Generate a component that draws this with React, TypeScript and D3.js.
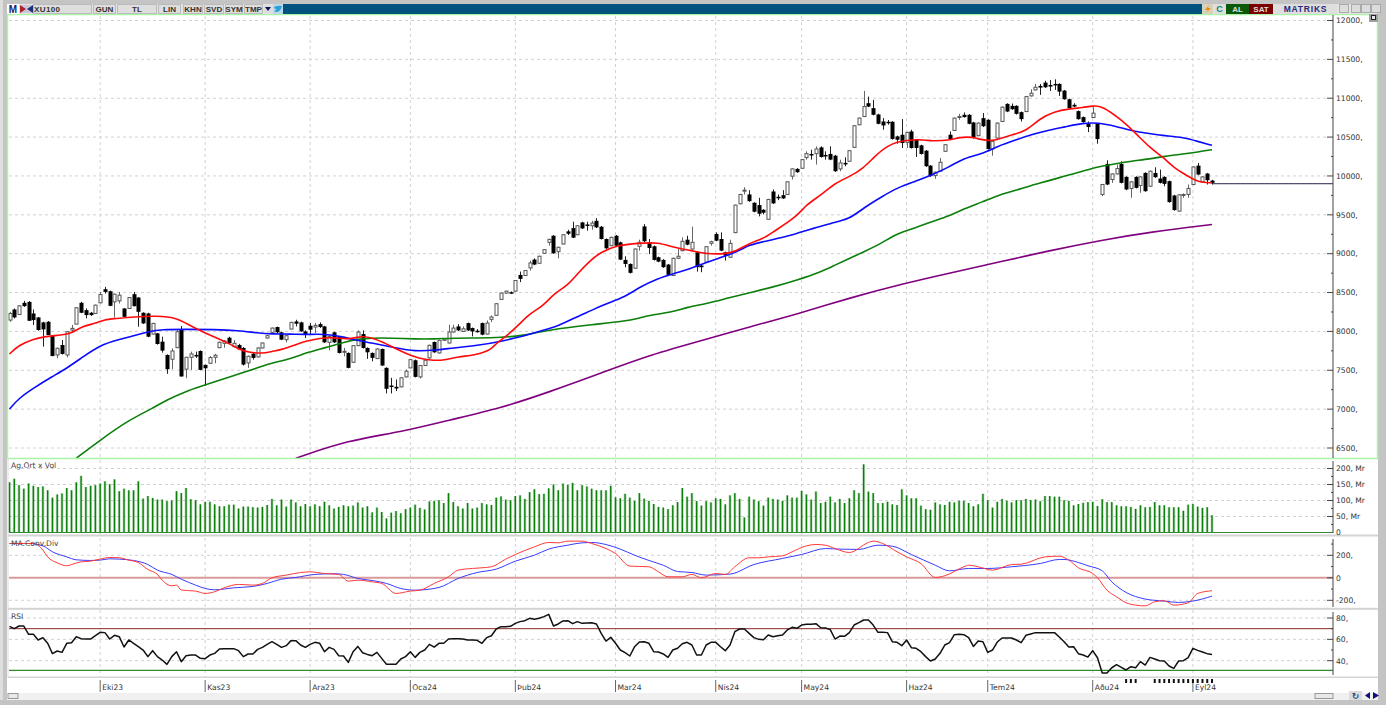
import React from "react";
import * as d3 from "d3";

// ---- candles (XU100, daily), 253 bars
const opens = [
8146,8282,8218,8368,8380,8231,8180,8116,8124,7941,
7697,7825,7697,8018,8094,8368,8274,8240,8231,8368,
8543,8517,8380,8393,8295,8295,8479,8436,8240,8231,
7966,7975,7868,7697,7642,7791,8018,7514,7667,7697,
7748,7569,7590,7667,7791,7847,7919,7804,7825,7787,
7595,7714,7672,7787,7915,7988,8056,7988,7894,8030,
8128,8116,8000,8073,8056,8094,8064,7859,7988,7928,
7731,7723,7603,7817,7966,7787,7723,7650,7774,7531,
7304,7287,7287,7415,7531,7629,7415,7561,7659,7864,
7723,7885,7851,7992,8064,8000,8107,8043,8009,8107,
7966,8155,8207,8412,8493,8505,8518,8727,8719,8817,
8924,8877,9005,9146,9231,9026,9125,9287,9329,9244,
9402,9376,9359,9423,9347,9189,9103,9231,9146,8920,
8868,8813,9095,9351,9146,9095,8954,8920,8860,8719,
8941,9039,9180,9060,9018,8847,8890,9133,9253,9189,
9018,8954,9271,9642,9809,9762,9655,9625,9565,9442,
9800,9732,9753,9762,9997,10091,10099,10236,10283,10287,
10368,10270,10283,10261,10091,10168,10189,10368,10659,10765,
10936,10872,10791,10701,10697,10697,10509,10530,10432,10573,
10466,10394,10325,10133,10005,10061,10317,10530,10586,10752,
10787,10787,10688,10518,10744,10722,10347,10488,10701,10927,
10902,10902,10821,10829,11030,11107,11158,11201,11171,11184,
11184,11098,10987,10915,10834,10757,10671,10752,10671,9762,
10155,9954,10026,10155,9988,9839,9988,9877,10039,9868,
10039,9967,9988,9933,9749,9548,9753,9762,9890,10133,
9924,10031,9941];
const highs = [
8252,8295,8338,8393,8389,8282,8185,8124,8133,7945,
7791,7889,8005,8082,8312,8380,8295,8250,8345,8508,
8573,8525,8487,8508,8300,8440,8508,8440,8245,8240,
8110,7980,7932,7705,7783,8018,8069,7672,7740,7740,
7755,7575,7684,7710,7868,7890,7932,7889,7840,7800,
7690,7720,7795,7858,7955,8050,8062,7995,7950,8122,
8150,8125,8013,8107,8107,8116,8072,7945,7995,7935,
7787,7730,7825,8013,8013,7795,7730,7780,7780,7538,
7403,7381,7410,7509,7645,7638,7568,7650,7830,7870,
7893,7910,8086,8086,8094,8064,8114,8050,8030,8115,
8141,8205,8365,8500,8525,8515,8662,8770,8790,8911,
8940,8974,9060,9192,9238,9090,9252,9308,9411,9366,
9410,9411,9423,9458,9355,9196,9218,9240,9155,8967,
8875,9068,9180,9381,9189,9105,8962,8930,8868,8950,
9060,9210,9231,9347,9026,8855,9098,9167,9274,9274,
9026,9180,9632,9770,9856,9817,9662,9719,9572,9706,
9826,9762,9817,9932,10098,10100,10218,10317,10338,10381,
10381,10317,10381,10270,10210,10240,10333,10654,10752,11094,
11021,10979,10800,10744,10720,10705,10518,10731,10568,10595,
10474,10402,10333,10140,10056,10232,10410,10573,10752,10799,
10817,10795,10696,10688,10810,10730,10453,10688,10893,10935,
10932,10910,10829,11030,11115,11184,11184,11225,11235,11243,
11192,11106,10995,10936,10842,10765,10701,10885,10680,9898,
10202,10034,10146,10189,9996,9932,9996,9996,10047,10069,
10112,10082,9996,9941,9757,9765,9775,9890,10124,10167,
9996,10039,9950];
const lows = [
8124,8167,8210,8316,8137,8082,8009,7804,7953,7680,
7655,7702,7667,7983,8090,8235,8167,8200,8225,8360,
8487,8325,8180,8359,8185,8290,8320,8060,8095,7925,
7960,7830,7727,7454,7514,7785,7420,7398,7505,7660,
7500,7300,7585,7590,7785,7790,7835,7795,7760,7560,
7531,7637,7665,7780,7908,7980,7980,7888,7859,8025,
8064,7995,7915,7958,7979,8045,7852,7757,7850,7716,
7680,7525,7595,7810,7780,7646,7616,7645,7555,7202,
7202,7232,7280,7408,7525,7408,7394,7555,7650,7725,
7715,7878,7845,7985,8005,7993,8006,7936,7985,7950,
7960,8120,8200,8405,8485,8482,8510,8634,8712,8783,
8853,8870,8998,9103,8998,8941,9118,9240,9200,9238,
9318,9295,9308,9330,9182,9062,9096,9096,8918,8826,
8745,8805,9039,9150,8996,8912,8890,8818,8720,8712,
8930,9030,9108,9052,8770,8762,8882,9103,9160,9032,
8911,8946,9264,9635,9762,9668,9532,9480,9506,9435,
9640,9689,9704,9755,9954,10040,10092,10210,10210,10146,
10236,10210,10203,10053,10061,10125,10182,10360,10652,10757,
10885,10780,10664,10595,10660,10468,10415,10360,10360,10352,
10244,10275,10118,9990,9963,10053,10310,10458,10578,10723,
10750,10664,10480,10510,10630,10340,10261,10480,10693,10821,
10851,10790,10700,10820,11022,11100,11043,11133,11094,11107,
11030,10980,10864,10885,10724,10685,10564,10745,10415,9740,
9882,9911,10018,9904,9818,9719,9840,9783,9797,9860,
9976,9904,9868,9656,9553,9540,9719,9719,9882,10010,
9916,9890,9890];
const closes = [
8231,8180,8329,8325,8137,8146,8018,8026,7953,7684,
7783,7710,7996,8039,8304,8240,8210,8210,8338,8474,
8508,8329,8479,8466,8188,8436,8325,8252,8103,7932,
8103,7838,7753,7514,7748,7996,7420,7667,7710,7684,
7505,7526,7663,7693,7860,7877,7847,7847,7770,7573,
7680,7659,7787,7851,7945,8043,7988,7894,7945,8116,
8099,8000,7958,8022,8077,8056,7859,7936,7859,7723,
7744,7531,7817,7992,7787,7731,7659,7774,7561,7262,
7296,7266,7403,7488,7637,7415,7561,7629,7821,7731,
7885,7902,7992,8043,8013,8034,8013,8000,7996,7958,
8107,8185,8356,8493,8518,8493,8655,8676,8783,8881,
8860,8967,9052,9184,9005,9082,9244,9257,9206,9359,
9325,9368,9394,9338,9189,9069,9210,9103,8924,8868,
8753,9060,9146,9159,9073,8920,8898,8826,8727,8941,
8967,9159,9116,9146,8826,8826,9090,9154,9167,9039,
8975,9133,9625,9762,9817,9676,9540,9514,9527,9698,
9647,9723,9711,9924,10091,10048,10210,10287,10270,10347,
10244,10261,10210,10061,10168,10155,10325,10646,10744,10893,
10893,10787,10671,10650,10688,10475,10466,10424,10560,10360,
10360,10283,10125,9997,10048,10176,10402,10466,10744,10765,
10757,10671,10488,10680,10640,10347,10445,10680,10885,10829,
10859,10799,10731,11021,11064,11141,11137,11141,11150,11175,
11085,10987,10872,10893,10731,10693,10629,10808,10475,9890,
9890,10026,10095,9911,9826,9924,9847,9988,9804,10061,
9984,9911,9898,9664,9561,9757,9762,9839,10116,10018,
9988,9945,9911];

const lastClose = 9900;

// ---- moving averages: [bar, value]
const maRed: [number, number][] = [[0,7710],[2,7825],[5,7898],[7,7932],[11,7953],[13,7975],[15,8060],[18,8103],[20,8154],[22,8163],[26,8188],[31,8201],[35,8175],[37,8103],[40,8009],[44,7898],[46,7847],[48,7770],[50,7731],[53,7714],[55,7744],[57,7765],[60,7830],[62,7872],[65,7915],[68,7923],[71,7894],[74,7945],[76,7915],[78,7872],[82,7744],[86,7646],[89,7625],[91,7629],[94,7672],[98,7701],[101,7765],[102,7851],[104,7929],[107,8100],[109,8228],[112,8335],[114,8484],[117,8591],[119,8740],[122,8932],[124,9018],[127,9103],[132,9137],[136,9146],[139,9082],[143,9039],[146,8996],[150,8996],[152,9025],[155,9133],[158,9194],[160,9280],[165,9476],[167,9634],[170,9749],[173,9911],[176,9988],[179,10103],[181,10232],[184,10402],[188,10466],[192,10466],[193,10449],[197,10458],[199,10500],[202,10500],[203,10475],[206,10445],[208,10488],[210,10530],[213,10573],[216,10744],[219,10829],[222,10863],[225,10880],[227,10902],[229,10902],[233,10722],[236,10552],[239,10360],[242,10232],[244,10103],[247,9997],[249,9920],[252,9911]];
const maBlue: [number, number][] = [[0,7001],[2,7142],[5,7270],[9,7420],[12,7526],[15,7655],[19,7825],[23,7898],[26,7941],[29,7996],[32,8026],[37,8026],[43,8026],[48,8011],[52,7979],[55,7966],[59,7966],[62,7958],[66,7970],[70,7928],[72,7894],[76,7851],[81,7787],[85,7744],[89,7757],[93,7787],[98,7817],[103,7872],[108,7942],[111,8002],[115,8070],[118,8164],[122,8271],[125,8356],[129,8441],[132,8570],[136,8685],[139,8740],[143,8813],[146,8890],[150,8967],[153,9040],[155,9112],[158,9155],[162,9207],[165,9262],[169,9335],[172,9390],[176,9442],[179,9591],[183,9740],[186,9847],[190,9933],[193,10005],[197,10116],[200,10232],[204,10287],[207,10381],[211,10466],[214,10530],[218,10594],[221,10629],[225,10680],[228,10688],[232,10637],[235,10582],[239,10543],[242,10518],[246,10496],[249,10445],[252,10394]];
const maGreen: [number, number][] = [[14,6369],[19,6601],[25,6860],[30,7010],[33,7120],[37,7230],[40,7290],[43,7350],[48,7454],[52,7531],[55,7595],[59,7646],[62,7723],[66,7787],[70,7859],[73,7902],[76,7915],[80,7915],[85,7902],[89,7902],[93,7915],[98,7915],[103,7920],[108,7950],[111,7993],[115,8036],[122,8087],[129,8130],[132,8172],[134,8205],[139,8249],[142,8313],[146,8356],[150,8420],[155,8497],[160,8570],[165,8660],[170,8764],[173,8854],[176,8938],[179,9023],[183,9143],[186,9262],[190,9335],[193,9407],[197,9484],[200,9578],[204,9668],[207,9749],[211,9817],[214,9877],[218,9941],[221,9997],[225,10061],[228,10116],[232,10159],[235,10189],[239,10219],[242,10253],[246,10283],[249,10308],[252,10338]];
const maPurple: [number, number][] = [[60,6369],[71,6601],[82,6704],[92,6858],[103,7013],[113,7219],[124,7463],[134,7695],[147,7916],[155,8057],[166,8240],[176,8430],[187,8610],[197,8750],[208,8900],[218,9040],[229,9176],[239,9279],[252,9375]];

// ---- volume (milyar TL), one per bar
const volumes = [
157,168,148,137,153,146,142,144,132,109,
119,122,139,132,157,177,142,146,148,153,
160,151,166,129,137,132,132,160,106,114,
108,103,103,98,100,129,123,139,104,101,
88,96,96,88,82,82,87,87,75,81,
81,79,78,80,86,105,85,103,81,103,
94,82,89,82,88,82,96,85,75,80,
85,82,84,94,78,82,63,78,64,44,
62,67,60,73,78,87,77,72,97,99,
101,92,123,95,82,75,92,75,78,92,
88,86,109,113,103,101,114,116,105,126,
135,120,121,138,150,132,153,149,155,132,
148,144,137,132,132,132,146,110,107,121,
109,99,123,106,99,89,80,78,73,85,
95,139,112,123,98,84,98,94,107,105,
88,116,123,105,47,112,103,98,84,109,
105,103,99,116,109,109,130,119,103,128,
92,96,112,94,105,92,107,132,123,213,
128,123,92,92,96,88,86,135,116,107,
107,84,73,71,94,88,86,96,94,99,
99,92,82,88,121,101,78,96,105,99,
94,101,101,105,101,103,98,114,114,112,
112,101,99,85,89,93,95,96,83,104,
95,95,85,82,82,80,74,85,79,80,
95,85,85,79,79,79,68,87,89,81,
77,79,54];

// ---- MACD: [bar, value]
const macdLine: [number, number][] = [[0,305],[5,305],[7,246],[8,186],[10,133],[12,107],[13,118],[15,142],[17,148],[19,166],[21,181],[23,178],[25,157],[27,136],[29,74],[31,30],[32,-21],[34,-71],[35,-65],[36,-109],[39,-118],[41,-139],[43,-124],[45,-89],[48,-59],[51,-65],[53,-50],[55,0],[58,24],[61,47],[63,53],[66,38],[69,30],[71,-30],[73,-21],[76,-36],[78,-50],[81,-139],[84,-118],[86,-110],[89,-50],[92,9],[94,68],[97,83],[99,89],[101,98],[104,166],[106,207],[110,275],[113,314],[115,311],[117,326],[120,326],[122,305],[125,260],[127,216],[130,104],[134,98],[136,53],[138,9],[141,9],[143,30],[145,0],[148,38],[150,30],[152,98],[155,178],[157,178],[159,186],[162,195],[164,231],[167,284],[169,296],[171,290],[173,260],[176,225],[180,314],[181,326],[183,305],[186,231],[188,186],[191,127],[194,3],[196,18],[200,98],[201,112],[203,98],[206,68],[210,118],[212,121],[217,186],[220,192],[222,157],[224,89],[227,38],[228,0],[230,-110],[232,-169],[234,-222],[236,-243],[238,-249],[240,-213],[242,-204],[244,-243],[247,-222],[249,-139],[252,-115]];
const macdSignal: [number, number][] = [[0,305],[4,305],[7,284],[9,231],[12,186],[14,160],[17,154],[19,157],[21,169],[23,166],[26,154],[29,118],[31,68],[34,30],[36,-12],[39,-65],[41,-95],[43,-107],[47,-89],[51,-77],[54,-50],[57,-12],[60,3],[64,30],[68,36],[70,30],[73,-6],[76,-24],[79,-50],[82,-95],[85,-110],[90,-86],[94,-6],[98,47],[102,77],[106,148],[110,201],[113,255],[117,290],[120,311],[122,314],[125,296],[128,255],[131,201],[134,154],[137,112],[140,56],[143,47],[146,24],[151,33],[156,118],[162,172],[166,207],[171,260],[174,255],[178,252],[182,290],[185,281],[189,207],[194,112],[197,62],[201,83],[205,83],[210,98],[216,127],[220,163],[221,163],[224,136],[226,107],[229,62],[231,-36],[234,-130],[238,-189],[242,-207],[245,-219],[248,-207],[252,-163]];

// ---- RSI, one per bar
const rsi = [
72.2,70,72.5,72.5,64.7,64.7,59.4,61.6,56.3,46.6,
49.1,47.8,56.3,56.9,62.5,60.6,60.3,60.3,63.4,66.6,
66.3,60.3,63.8,62.5,52.8,59.4,56.3,53.1,50,43.8,
49.4,43.8,40.6,36.6,43.8,48.4,39.1,44.7,45.3,45.3,
42.2,41.9,45.3,46.9,50.9,51.3,51.3,51.3,49.4,43.8,
46.3,46.3,50.6,52.5,55.3,57.8,55.3,52.5,54.1,58.8,
58.8,54.7,52.5,55.3,57.2,56.3,48.4,52.5,50.6,44.7,
44.4,38.4,48.4,53.4,47.5,45.9,44.7,47.8,42.2,36.6,
36.6,36.6,41.6,43.8,48.4,43.1,47.8,50,55.3,52.8,
56.3,56.3,60.3,60.6,60.6,60.3,59.4,59.4,59.1,56.3,
61.6,63.4,69.7,71.9,71.9,72.2,75,76.6,77.5,79.7,
78.8,79.7,81.3,83.4,72.5,74.4,77.2,77.5,74.7,76.6,
75,75.3,75.6,74.4,65.6,58.4,61.9,56.3,50,47.5,
44.4,53.1,57.5,57.8,56.3,48.4,48.1,46.3,43.1,50,
51.6,55.9,57.2,54.7,45.3,45.3,54.7,57.2,57.2,53.1,
49.4,54.7,67.2,69.7,69.7,65.6,61.6,60,59.7,64.1,
62.5,63.4,64.1,68.8,71.3,70.3,73.4,74.1,74.1,74.7,
70.9,70.6,69.1,60.3,63.1,62.8,66.3,73.4,75.6,78.1,
78.1,73.4,66.6,66.6,66.3,57.8,57.2,54.1,59.4,52.2,
51.6,48.4,43.8,39.7,41.6,46.9,54.7,56.9,64.4,64.7,
64.4,61.6,53.4,58.4,57.8,47.8,50,57.5,61.3,61.3,
61.3,59.4,56.9,63.8,65,66.3,66.3,66.3,66.3,66.3,
62.2,57.8,52.8,53.1,46.6,45.3,43.4,49.4,42.8,28.4,
28.4,33.4,36.3,33.8,31.3,34.4,33.4,39.1,35.9,43.1,
41.6,40,39.7,35,32.8,39.7,40,42.8,51.6,49.7,
48.1,46.6,45.9];

// ---- axis labels and markers
const priceTicks = [12000,11500,11000,10500,10000,9500,9000,8500,8000,7500,7000,6500];
const volTicks = [200,150,100,50];
const macdTicks = [200,-200];
const rsiTicks = [80,60,40];
const rsiUpper = 70;
const rsiLower = 31;
const months: [string, number][] = [["Eki23",19],["Kas23",41],["Ara23",63],["Oca24",84],["Þub24",106],["Mar24",127],["Nis24",148],["May24",166],["Haz24",188],["Tem24",205],["Aðu24",227],["Eyl24",248]];
const barMarks = [234,235,236,240,241,242,243,244,245,246,247,248,249,250,251,252];
const toolButtons: [string, number, number][] = [["GUN",93,23],["TL",117,40],["LIN",158,23],["KHN",183,20],["SVD",204,20],["SYM",225,18],["TMP",244,19]];

const W = 1397, H = 706;
const plotL = 9, plotR = 1333, panelR = 1378;
const x = d3.scaleLinear().domain([0, 252]).range([9.5, 1212]);
const yP = d3.scaleLinear().domain([12000, 6500]).range([20.5, 448]);
const yV = d3.scaleLinear().domain([0, 200]).range([532.5, 468.5]);
const yM = d3.scaleLinear().domain([200, -200]).range([555.3, 600.3]);
const yR = d3.scaleLinear().domain([80, 40]).range([618, 660.7]);
const smooth = (y: d3.ScaleLinear<number, number>) =>
  d3.line<[number, number]>().x(d => x(d[0])).y(d => y(d[1])).curve(d3.curveBasis);
const mono = (y: d3.ScaleLinear<number, number>) =>
  d3.line<[number, number]>().x(d => x(d[0])).y(d => y(d[1])).curve(d3.curveMonotoneX);
const rsiPath = d3.line<number>().x((_, i) => x(i)).y(d => yR(d)).curve(d3.curveLinear);

const GRID = "#d2d2d2";
const FONT = "'DejaVu Sans', sans-serif";
const TICK = "#333";

function HLine({ y, x2 = plotR - 6 }: { y: number; x2?: number }) {
  return <line x1={plotL} x2={x2} y1={y} y2={y} stroke={GRID} strokeWidth={1} strokeDasharray="3 3" />;
}

function Ticks({ values, scale, fmt, minor, top, bottom }: { values: number[]; scale: (v: number) => number; fmt: (v: number) => string; minor: number[]; top: number; bottom: number }) {
  return (
    <g>
      <line x1={plotR} x2={plotR} y1={top} y2={bottom} stroke="#444" />
      {values.map(v => (
        <g key={v}>
          <line x1={plotR - 6} x2={plotR} y1={scale(v)} y2={scale(v)} stroke="#444" />
          <text x={plotR + 3} y={scale(v) + 2.8} fontSize={7.6} fontFamily={FONT} fill={TICK}>{fmt(v)}</text>
        </g>
      ))}
      {minor.map(v => <line key={v} x1={plotR - 2} x2={plotR} y1={scale(v)} y2={scale(v)} stroke="#444" />)}
    </g>
  );
}

export default function App() {
  return (
    <svg width={W} height={H} viewBox={`0 0 ${W} ${H}`} style={{ position: "absolute", left: 0, top: 0, display: "block", background: "#fff" }}>
      <defs>
        <clipPath id="mainClip"><rect x={8} y={15} width={1325} height={443} /></clipPath>
      </defs>

      {/* window frame */}
      <rect x={0} y={0} width={1386} height={4} fill="#c4c4c4" />
      <rect x={0} y={0} width={7} height={705} fill="#c4c4c4" />
      <rect x={0} y={0} width={3} height={705} fill="#dedede" />
      <rect x={1378} y={0} width={8} height={705} fill="#c4c4c4" />
      <rect x={0} y={700} width={1386} height={5} fill="#c4c4c4" />

      {/* grid */}
      {priceTicks.map(v => <HLine key={v} y={yP(v)} />)}
      {volTicks.map(v => <HLine key={v} y={yV(v)} />)}
      {macdTicks.map(v => <HLine key={v} y={yM(v)} />)}
      {rsiTicks.map(v => <HLine key={v} y={yR(v)} />)}
      {months.map(([m, i]) => (
        <line key={m} x1={x(i)} x2={x(i)} y1={16} y2={677} stroke={GRID} strokeDasharray="3 3" />
      ))}

      {/* candles */}
      <g>
        {closes.map((c, i) => {
          const o = opens[i];
          const up = c >= o;
          const top = yP(Math.max(o, c));
          const bot = yP(Math.min(o, c));
          const cx = Math.round(x(i)) + 0.5;
          return (
            <g key={i}>
              <line x1={cx} x2={cx} y1={yP(highs[i])} y2={yP(lows[i])} stroke={up ? "#666" : "#222"} strokeWidth={1} />
              {up
                ? <rect x={cx - 1.5} y={top} width={3} height={Math.max(bot - top, 1)} fill="#fff" stroke="#555" strokeWidth={1} />
                : <rect x={cx - 2} y={top} width={4} height={Math.max(bot - top, 1.5)} fill="#000" />}
            </g>
          );
        })}
      </g>

      {/* last close marker */}
      <line x1={x(252)} x2={plotR} y1={yP(lastClose)} y2={yP(lastClose)} stroke="#22224a" />

      {/* moving averages */}
      <g clipPath="url(#mainClip)" fill="none" strokeWidth={1.6} strokeLinejoin="round">
        <path d={smooth(yP)(maPurple) ?? ""} stroke="#800080" />
        <path d={smooth(yP)(maGreen) ?? ""} stroke="#0a7f0a" />
        <path d={smooth(yP)(maBlue) ?? ""} stroke="#0a0aff" />
        <path d={smooth(yP)(maRed) ?? ""} stroke="#ff0a0a" />
      </g>

      {/* volume */}
      <g>
        {volumes.map((v, i) => (
          <g key={i}>
            <rect x={x(i) - 1.5} y={yV(v)} width={3} height={yV(0) - yV(v)} fill="#0a7f0a" opacity={0.22} />
            <rect x={x(i) - 0.7} y={yV(v)} width={1.4} height={yV(0) - yV(v)} fill="#0a7f0a" />
          </g>
        ))}
      </g>
      <line x1={plotL} x2={plotR} y1={yV(0)} y2={yV(0)} stroke="#2e8b2e" strokeWidth={1.2} />

      {/* MACD */}
      <line x1={plotL} x2={plotR} y1={yM(0)} y2={yM(0)} stroke="#d99a9a" strokeWidth={2} />
      <path d={mono(yM)(macdSignal) ?? ""} fill="none" stroke="#3a3aff" strokeWidth={1} />
      <path d={mono(yM)(macdLine) ?? ""} fill="none" stroke="#ff3a3a" strokeWidth={1} />

      {/* RSI */}
      <line x1={plotL} x2={plotR} y1={yR(rsiUpper)} y2={yR(rsiUpper)} stroke="#8b2a2a" strokeWidth={1} />
      <line x1={plotL} x2={plotR} y1={yR(rsiLower)} y2={yR(rsiLower)} stroke="#2e8b2e" strokeWidth={1.2} />
      <path d={rsiPath(rsi) ?? ""} fill="none" stroke="#111" strokeWidth={1.5} strokeLinejoin="round" />

      {/* pane borders */}
      <rect x={7.5} y={14.5} width={panelR - 8} height={444} fill="none" stroke="#a8f5a8" strokeWidth={1.5} />
      <rect x={8} y={534.5} width={panelR - 8} height={2} fill="#d4d4d4" />
      <rect x={8} y={607.8} width={panelR - 8} height={2} fill="#d4d4d4" />
      <rect x={8} y={676.5} width={panelR - 8} height={1.5} fill="#d4d4d4" />
      <line x1={8} x2={8} y1={458} y2={678} stroke="#dcdcdc" />

      {/* axes */}
      <Ticks values={priceTicks} scale={yP} fmt={v => `${v},`} minor={priceTicks.slice(0, -1).map(v => v - 250)} top={15} bottom={458} />
      <Ticks values={volTicks} scale={yV} fmt={v => `${v}, Mr`} minor={[225, 175, 125, 75, 25].filter(v => yV(v) > 461)} top={461} bottom={533} />
      <text x={plotR + 3} y={yV(0) + 2.5} fontSize={7.6} fontFamily={FONT} fill={TICK}>0</text>
      <Ticks values={macdTicks} scale={yM} fmt={v => `${v},`} minor={[300, 100, -100]} top={539} bottom={607} />
      <line x1={plotR - 6} x2={plotR} y1={yM(0)} y2={yM(0)} stroke="#444" />
      <text x={plotR + 3} y={yM(0) + 2.8} fontSize={7.6} fontFamily={FONT} fill={TICK}>0</text>
      <Ticks values={rsiTicks} scale={yR} fmt={v => `${v},`} minor={[70, 50]} top={612} bottom={675} />

      {/* pane titles */}
      <text x={11} y={468} fontSize={7.6} fontFamily={FONT} fill="#444">Ag.Ort x Vol</text>
      <text x={11} y={546} fontSize={7.6} fontFamily={FONT} fill="#444">MA.Conv.Div</text>
      <text x={11} y={619} fontSize={7.6} fontFamily={FONT} fill="#444">RSI</text>

      {/* x axis */}
      <rect x={8} y={693} width={1370} height={7} fill="#f0f0f0" />
      {months.map(([m, i]) => (
        <g key={m}>
          <line x1={x(i)} x2={x(i)} y1={680} y2={692} stroke="#666" />
          <text x={x(i) + 2} y={690} fontSize={7.6} fontFamily={FONT} fill={TICK}>{m}</text>
        </g>
      ))}
      {barMarks.map(i => <rect key={i} x={x(i) - 1} y={679} width={2} height={4} fill="#111" />)}
      <rect x={8} y={693.5} width={10} height={5} fill="#e8e8e8" stroke="#999" />
      <rect x={1315} y={693.5} width={18} height={5} fill="#e8e8e8" stroke="#999" />

      {/* bottom-right controls */}
      <rect x={1349} y={691} width={13} height={9} fill="#dcdcdc" />
      <text x={1355.5} y={698.5} fontSize={9} fontFamily={FONT} fontWeight="bold" fill="#1c4f8c" textAnchor="middle">↻</text>
      <path d="M1370,692 L1370,699 L1365,695.5 Z" fill="#10107a" />
      <path d="M1373,692 L1373,699 L1379,695.5 Z" fill="#10107a" />

      {/* toolbar */}
      <rect x={8} y={4} width={1370} height={10} fill="#e4e4e4" />
      <rect x={283} y={4} width={920} height={10} fill="#00527f" />
      <rect x={8} y={4} width={11} height={10} fill="#fff" />
      <text x={13} y={12.5} fontSize={10} fontWeight="bold" fontFamily="'Liberation Sans', sans-serif" fill="#1a1a6e" textAnchor="middle">M</text>
      <rect x={20} y={5} width={13} height={8} fill="#c8c8d8" />
      <path d="M20,5 L26,9 L20,13 Z" fill="#b02030" />
      <path d="M33,5 L27,9 L33,13 Z" fill="#203080" />
      <rect x={33.5} y={4.5} width={58} height={9} fill="#dedede" stroke="#bbb" />
      <text x={34} y={12} fontSize={8} fontWeight="bold" fontFamily="'Liberation Sans', sans-serif" letterSpacing={0.4} fill="#333">XU100</text>
      {toolButtons.map(([t, bx, bw]) => (
        <g key={t}>
          <rect x={bx + 0.5} y={4.5} width={bw - 1} height={9} fill="#dedede" stroke="#bbb" />
          <text x={bx + bw / 2} y={12} fontSize={8} fontWeight="bold" fontFamily="'Liberation Sans', sans-serif" fill="#333" textAnchor="middle">{t}</text>
        </g>
      ))}
      <rect x={264} y={4.5} width={9} height={9} fill="#dedede" />
      <path d="M265,7 L271,7 L268,11 Z" fill="#10105a" />
      <rect x={273} y={4} width={10} height={10} fill="#bcd8e8" />
      <path d="M274,7 Q278,5 282,6 Q281,11 277,12 Q275,12 274,11 Q277,10 276,9 Q274,9 274,7 Z" fill="#2aa0dc" />
      <rect x={1202} y={4} width={11} height={10} fill="#d8d0b8" />
      <path d="M1209,5 L1205,10 L1208,10 L1206,13 L1211,8 L1208,8 Z" fill="#e89010" />
      <rect x={1214} y={4} width={12} height={10} fill="#dedede" />
      <text x={1219.5} y={12} fontSize={9} fontWeight="bold" fontFamily="'Liberation Sans', sans-serif" fill="#0a8a6a" textAnchor="middle">C</text>
      <rect x={1226} y={4} width={23} height={10} fill="#0a5a0a" />
      <text x={1237.5} y={12} fontSize={8} fontWeight="bold" fontFamily="'Liberation Sans', sans-serif" fill="#ddd" textAnchor="middle">AL</text>
      <rect x={1249} y={4} width={24} height={10} fill="#7a0000" />
      <text x={1261} y={12} fontSize={8} fontWeight="bold" fontFamily="'Liberation Sans', sans-serif" fill="#ddd" textAnchor="middle">SAT</text>
      <rect x={1274} y={4} width={63} height={10} fill="#dedede" />
      <text x={1305.5} y={12} fontSize={8.5} fontWeight="bold" fontFamily="'Liberation Sans', sans-serif" letterSpacing={0.8} fill="#2a2a78" textAnchor="middle">MATRIKS</text>
      {[1339, 1351, 1361, 1371].map(bx => (
        <rect key={bx} x={bx + 0.5} y={4.5} width={9} height={8} fill="#dcdcdc" stroke="#aaa" />
      ))}
      <rect x={1369} y={14} width={9} height={8} fill="#a0a0a0" />
      <rect x={1371.5} y={15.5} width={4} height={4} fill="#e8e8e8" stroke="#222" />
    </svg>
  );
}
